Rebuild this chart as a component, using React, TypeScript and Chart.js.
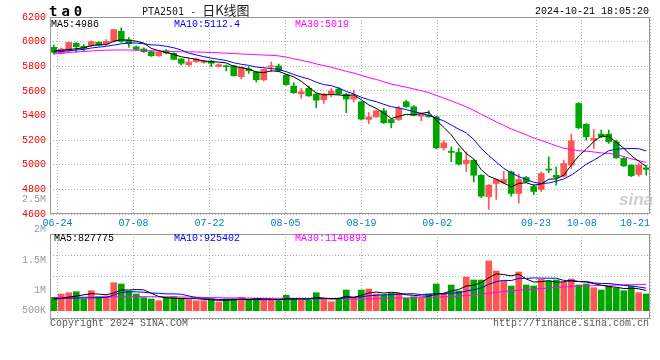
import React, { useEffect, useRef } from 'react';
import { Chart, registerables } from 'chart.js';

Chart.register(...registerables);

// ---------- categories ----------
const dates = [
  '06-21', '06-24', '06-25', '06-26', '06-27', '06-28',
  '07-01', '07-02', '07-03', '07-04', '07-05', '07-08', '07-09', '07-10', '07-11', '07-12',
  '07-15', '07-16', '07-17', '07-18', '07-19', '07-22', '07-23', '07-24', '07-25', '07-26',
  '07-29', '07-30', '07-31', '08-01', '08-02', '08-05', '08-06', '08-07', '08-08', '08-09',
  '08-12', '08-13', '08-14', '08-15', '08-16', '08-19', '08-20', '08-21', '08-22', '08-23',
  '08-26', '08-27', '08-28', '08-29', '08-30', '09-02', '09-03', '09-04', '09-05', '09-06',
  '09-09', '09-10', '09-11', '09-12', '09-13', '09-18', '09-19', '09-20', '09-23', '09-24',
  '09-25', '09-26', '09-27', '09-30', '10-08', '10-09', '10-10', '10-11', '10-14', '10-15',
  '10-16', '10-17', '10-18', '10-21',
];

// ---------- price series ----------
const openP = [
  5954, 5907, 5928, 5986, 5962, 5967, 5994, 5980, 6002, 6084,
  6015, 5958, 5940, 5918, 5885, 5926, 5905, 5859, 5812, 5837,
  5832, 5842, 5799, 5804, 5804, 5715, 5777, 5755, 5690, 5795,
  5802, 5728, 5639, 5576, 5620, 5574, 5528, 5576, 5615, 5574,
  5533, 5511, 5368, 5389, 5438, 5368, 5368, 5511, 5471, 5395,
  5403, 5389, 5137, 5110, 5100, 5010, 5037, 4915, 4740, 4848,
  4853, 4942, 4767, 4897, 4824, 4799, 4965, 4915, 4907, 4997,
  5498, 5328, 5200, 5249, 5249, 5187, 5051, 4997, 4921, 4975,
];
const highP = [
  5972, 5950, 5995, 5993, 5976, 6005, 6000, 6017, 6100, 6111,
  6033, 5965, 5950, 5925, 5920, 5935, 5910, 5862, 5864, 5866,
  5850, 5848, 5820, 5810, 5808, 5795, 5794, 5760, 5778, 5834,
  5818, 5735, 5666, 5620, 5639, 5580, 5580, 5620, 5628, 5580,
  5607, 5515, 5425, 5445, 5458, 5375, 5476, 5525, 5480, 5420,
  5438, 5395, 5200, 5145, 5133, 5105, 5040, 4920, 4840, 4885,
  4946, 4950, 4921, 4905, 4837, 4942, 5064, 4983, 5037, 5249,
  5505, 5335, 5287, 5282, 5282, 5200, 5060, 5000, 5010, 4994,
];
const lowP = [
  5899, 5900, 5920, 5913, 5920, 5960, 5965, 5972, 5995, 5993,
  5954, 5930, 5912, 5880, 5880, 5900, 5852, 5810, 5799, 5830,
  5825, 5796, 5795, 5763, 5720, 5698, 5742, 5672, 5680, 5755,
  5755, 5645, 5580, 5539, 5555, 5463, 5498, 5552, 5570, 5422,
  5511, 5363, 5333, 5385, 5335, 5300, 5360, 5465, 5398, 5357,
  5385, 5130, 5119, 5024, 4997, 4945, 4861, 4734, 4637, 4718,
  4845, 4745, 4690, 4855, 4758, 4782, 4934, 4834, 4900, 4970,
  5292, 5200, 5133, 5220, 5173, 5050, 4985, 4905, 4907, 4915,
];
const closeP = [
  5913, 5940, 5993, 5959, 5946, 5999, 5972, 6002, 6098, 6002,
  5983, 5937, 5918, 5885, 5913, 5907, 5856, 5824, 5834, 5859,
  5842, 5824, 5812, 5796, 5723, 5791, 5763, 5690, 5775, 5798,
  5763, 5650, 5585, 5593, 5560, 5525, 5574, 5598, 5576, 5533,
  5560, 5371, 5389, 5438, 5341, 5341, 5458, 5471, 5403, 5411,
  5390, 5137, 5178, 5100, 5005, 5037, 4915, 4745, 4834, 4880,
  4880, 4767, 4880, 4861, 4783, 4929, 4957, 4897, 5010, 5194,
  5300, 5227, 5214, 5227, 5187, 5056, 4991, 4910, 4997, 4962,
];
const ma5P = [
  5924, 5930, 5936, 5942, 5950, 5967, 5974, 5976, 6003, 6015,
  6011, 6004, 5988, 5945, 5927, 5912, 5896, 5877, 5867, 5856,
  5843, 5837, 5834, 5827, 5799, 5789, 5777, 5753, 5748, 5763,
  5758, 5735, 5714, 5678, 5630, 5583, 5567, 5570, 5567, 5561,
  5568, 5528, 5486, 5458, 5420, 5376, 5393, 5410, 5403, 5417,
  5427, 5362, 5304, 5243, 5162, 5091, 5047, 4960, 4907, 4882,
  4851, 4821, 4848, 4854, 4834, 4844, 4882, 4885, 4915, 4997,
  5072, 5126, 5189, 5232, 5231, 5182, 5135, 5074, 5028, 4986,
];
const ma10P = [
  5915, 5920, 5925, 5932, 5937, 5948, 5955, 5962, 5972, 5982,
  5989, 5989, 5982, 5974, 5971, 5962, 5950, 5932, 5906, 5892,
  5878, 5866, 5856, 5847, 5828, 5816, 5807, 5793, 5788, 5781,
  5774, 5756, 5733, 5713, 5697, 5670, 5651, 5642, 5622, 5596,
  5575, 5548, 5528, 5512, 5491, 5472, 5461, 5448, 5431, 5418,
  5401, 5378, 5357, 5323, 5289, 5259, 5205, 5132, 5075, 5022,
  4971, 4934, 4904, 4880, 4858, 4847, 4852, 4867, 4884, 4916,
  4958, 5004, 5037, 5074, 5114, 5127, 5130, 5132, 5130, 5112,
];
const ma30P = [
  5900, 5905, 5912, 5916, 5920, 5924, 5928, 5931, 5932, 5932,
  5932, 5930, 5928, 5926, 5924, 5920, 5919, 5918, 5917, 5916,
  5914, 5912, 5909, 5906, 5903, 5900, 5897, 5894, 5891, 5889,
  5884, 5874, 5860, 5848, 5835, 5819, 5806, 5792, 5775, 5759,
  5745, 5726, 5708, 5693, 5674, 5655, 5642, 5630, 5616, 5601,
  5586, 5563, 5542, 5519, 5495, 5470, 5442, 5410, 5380, 5348,
  5320, 5290, 5267, 5243, 5217, 5197, 5176, 5154, 5134, 5124,
  5114, 5110, 5104, 5096, 5092, 5082, 5066, 5048, 5034, 5019,
];

// ---------- volume series ----------
const volume = [
  549000, 685000, 738000, 779000, 492000, 820000, 574000, 603000, 1148000, 1095000,
  808000, 685000, 533000, 480000, 410000, 549000, 574000, 480000, 451000, 410000,
  410000, 492000, 357000, 480000, 480000, 549000, 439000, 492000, 439000, 439000,
  410000, 631000, 492000, 439000, 426000, 738000, 480000, 369000, 508000, 849000,
  549000, 849000, 890000, 685000, 644000, 713000, 713000, 508000, 574000, 508000,
  685000, 1095000, 713000, 1054000, 808000, 1382000, 1259000, 1259000, 2038000, 1628000,
  1218000, 1013000, 1587000, 1054000, 1013000, 1287000, 1218000, 1259000, 1164000, 1300000,
  1054000, 1095000, 943000, 849000, 1000000, 931000, 820000, 1000000, 738000, 685000,
];
const ma5V = [
  480000, 500000, 560000, 600000, 649000, 703000, 681000, 654000, 727000, 848000,
  846000, 868000, 854000, 720000, 583000, 531000, 509000, 499000, 493000, 493000,
  465000, 449000, 424000, 430000, 444000, 472000, 461000, 488000, 480000, 472000,
  444000, 482000, 482000, 482000, 480000, 545000, 515000, 490000, 504000, 589000,
  551000, 625000, 729000, 764000, 723000, 756000, 729000, 653000, 630000, 603000,
  598000, 674000, 715000, 811000, 871000, 1010000, 1043000, 1152000, 1349000, 1513000,
  1480000, 1431000, 1497000, 1300000, 1177000, 1191000, 1232000, 1166000, 1188000, 1246000,
  1199000, 1174000, 1111000, 1048000, 988000, 964000, 909000, 920000, 898000, 828000,
];
const ma10V = [
  505000, 510000, 515000, 520000, 525000, 530000, 535000, 545000, 640000, 748000,
  774000, 774000, 754000, 724000, 716000, 689000, 689000, 676000, 607000, 538000,
  498000, 479000, 461000, 461000, 468000, 468000, 455000, 456000, 455000, 458000,
  458000, 472000, 485000, 481000, 476000, 495000, 499000, 486000, 493000, 534000,
  548000, 570000, 610000, 634000, 656000, 654000, 677000, 691000, 697000, 663000,
  677000, 702000, 684000, 721000, 737000, 804000, 859000, 934000, 1080000, 1192000,
  1245000, 1237000, 1325000, 1325000, 1345000, 1336000, 1332000, 1332000, 1244000, 1211000,
  1195000, 1203000, 1139000, 1118000, 1117000, 1081000, 1042000, 1016000, 973000, 925000,
];
const ma30V = [
  545000, 548000, 550000, 552000, 555000, 558000, 560000, 565000, 570000, 575000,
  578000, 578000, 576000, 574000, 572000, 570000, 566000, 562000, 558000, 552000,
  545000, 538000, 530000, 524000, 520000, 516000, 512000, 510000, 508000, 506000,
  505000, 504000, 503000, 502000, 500000, 498000, 496000, 494000, 490000, 486000,
  482000, 480000, 484000, 492000, 500000, 510000, 518000, 524000, 530000, 536000,
  545000, 556000, 568000, 582000, 598000, 620000, 645000, 675000, 715000, 755000,
  785000, 810000, 840000, 865000, 885000, 905000, 930000, 955000, 975000, 995000,
  1010000, 1020000, 1028000, 1035000, 1042000, 1050000, 1058000, 1066000, 1074000, 1080000,
];

// ---------- tick labels ----------
const priceTicks = [4600, 4800, 5000, 5200, 5400, 5600, 5800, 6000, 6200];
const dateTickLabels = ['06-24', '07-08', '07-22', '08-05', '08-19', '09-02', '09-23', '10-08', '10-21'];
const volTickLabels = ['2.5M', '2M', '1.5M', '1M', '500K'];
const volTickY = [200, 230, 261, 291, 311]; // layout positions of the volume axis labels

// ---------- styles ----------
const UP = '#ff5555';
const DOWN = '#00a600';
const GRID = '#b0b0b0';
const FRAME = '#999999';
const MONO = "'Liberation Mono', 'DejaVu Sans Mono', monospace";
const DATE_BLUE = '#0a78d2';

const candleColor = closeP.map((c, i) => (c >= openP[i] ? UP : DOWN));
const pts = (arr: number[]) => arr.map((v, i) => ({ x: i, y: v }));
const gridTickIdx = [0, ...dateTickLabels.map((d) => dates.indexOf(d))];

const framePlugin = {
  id: 'frame',
  afterDraw(chart: any) {
    const { ctx, chartArea: a } = chart;
    ctx.save();
    ctx.strokeStyle = FRAME;
    ctx.lineWidth = 1;
    ctx.setLineDash([]);
    ctx.strokeRect(a.left + 0.5, a.top + 0.5, a.right - a.left - 1, a.bottom - a.top - 1);
    ctx.restore();
  },
};

function dataAxis() {
  return {
    type: 'linear',
    display: false,
    offset: false,
    grid: { offset: false },
    min: -0.5,
    max: dates.length - 0.5,
  };
}

function gridAxis(showLabels: boolean) {
  return {
    type: 'linear',
    position: 'bottom',
    offset: false,
    min: 0,
    max: dates.length - 1,
    afterBuildTicks: (s: any) => {
      s.ticks = gridTickIdx.map((v) => ({ value: v }));
    },
    afterFit: (s: any) => {
      s.height = showLabels ? 18 : 0;
      s.paddingLeft = 0;
      s.paddingRight = 0;
    },
    grid: { color: GRID, lineWidth: 1, drawTicks: false, offset: false },
    border: { display: false, dash: [1, 2] },
    ticks: {
      display: showLabels,
      autoSkip: false,
      maxRotation: 0,
      minRotation: 0,
      align: 'inner',
      padding: 3,
      color: DATE_BLUE,
      font: { family: MONO, size: 10 },
      callback: (v: number) => (v === 0 ? '' : dates[v]),
    },
  };
}

function lineSet(arr: number[], color: string, order: number) {
  return {
    type: 'line',
    data: pts(arr),
    borderColor: color,
    borderWidth: 1,
    pointRadius: 0,
    tension: 0,
    fill: false,
    order,
    xAxisID: 'x',
    yAxisID: 'y',
  };
}

function Txt(props: any) {
  const { x, y, text, color = '#000', size = 10, family = MONO, align = 'left', weight = 'normal', style = {} } = props;
  const pos = align === 'right' ? { right: 660 - x } : { left: x };
  return (
    <div
      style={{
        position: 'absolute',
        top: y - size / 2,
        ...pos,
        fontSize: size,
        lineHeight: `${size}px`,
        fontFamily: family,
        color,
        fontWeight: weight,
        whiteSpace: 'pre',
        ...style,
      }}
    >
      {text}
    </div>
  );
}

export default function App() {
  const priceRef = useRef<HTMLCanvasElement>(null);
  const volRef = useRef<HTMLCanvasElement>(null);

  useEffect(() => {
    const common = {
      animation: false,
      responsive: false,
      maintainAspectRatio: false,
      devicePixelRatio: 1,
      events: [],
      plugins: { legend: { display: false }, tooltip: { enabled: false }, title: { display: false } },
    };

    const priceChart = new Chart(priceRef.current as HTMLCanvasElement, {
      type: 'bar',
      data: {
        datasets: [
          lineSet(ma5P, '#000000', 0),
          lineSet(ma10P, '#0000ff', 1),
          lineSet(ma30P, '#ff00ff', 2),
          {
            type: 'bar',
            data: dates.map((_, i) => ({ x: i, y: [openP[i], closeP[i]] })),
            backgroundColor: candleColor,
            borderWidth: 0,
            barThickness: 6,
            minBarLength: 1,
            grouped: false,
            order: 4,
            xAxisID: 'x',
            yAxisID: 'y',
          },
          {
            type: 'bar',
            data: dates.map((_, i) => ({ x: i, y: [lowP[i], highP[i]] })),
            backgroundColor: candleColor,
            borderWidth: 0,
            barThickness: 1,
            grouped: false,
            order: 5,
            xAxisID: 'x',
            yAxisID: 'y',
          },
        ] as any,
      },
      options: {
        ...common,
        layout: { padding: { top: 17, right: 10, bottom: 0, left: 0 } },
        scales: {
          x: dataAxis(),
          xg: gridAxis(true),
          y: {
            type: 'linear',
            position: 'left',
            min: priceTicks[0],
            max: priceTicks[priceTicks.length - 1],
            afterBuildTicks: (s: any) => {
              s.ticks = priceTicks.map((v) => ({ value: v }));
            },
            afterFit: (s: any) => {
              s.width = 50;
            },
            grid: { color: GRID, lineWidth: 1, drawTicks: false },
            border: { display: false, dash: [1, 2] },
            ticks: {
              color: '#f00000',
              padding: 4,
              font: { family: MONO, size: 10 },
              callback: (v: number) => String(v),
            },
          },
        },
      } as any,
      plugins: [framePlugin],
    });

    const volChart = new Chart(volRef.current as HTMLCanvasElement, {
      type: 'bar',
      data: {
        datasets: [
          lineSet(ma5V, '#000000', 0),
          lineSet(ma10V, '#0000ff', 1),
          lineSet(ma30V, '#ff00ff', 2),
          {
            type: 'bar',
            data: pts(volume),
            backgroundColor: candleColor,
            borderWidth: 0,
            barThickness: 6,
            grouped: false,
            order: 4,
            xAxisID: 'x',
            yAxisID: 'y',
          },
        ] as any,
      },
      options: {
        ...common,
        layout: { padding: { top: 8, right: 10, bottom: 7, left: 0 } },
        scales: {
          x: dataAxis(),
          xg: gridAxis(false),
          y: {
            type: 'linear',
            position: 'left',
            min: -340000,
            max: 3145000,
            afterBuildTicks: (s: any) => {
              s.ticks = [0, 1, 2, 3, 4].map((k) => ({ value: s.min + ((s.max - s.min) * k) / 4 }));
            },
            afterFit: (s: any) => {
              s.width = 50;
            },
            grid: { color: GRID, lineWidth: 1, drawTicks: false },
            border: { display: false, dash: [1, 2] },
            ticks: { display: false },
          },
        },
      } as any,
      plugins: [framePlugin],
    });

    return () => {
      priceChart.destroy();
      volChart.destroy();
    };
  }, []);

  return (
    <div
      style={{
        position: 'fixed',
        left: 0,
        top: 0,
        width: 660,
        height: 360,
        background: '#ffffff',
        overflow: 'hidden',
      }}
    >
      <canvas
        ref={priceRef}
        width={660}
        height={232}
        style={{ position: 'absolute', left: 0, top: 0, width: 660, height: 232 }}
      />
      <canvas
        ref={volRef}
        width={660}
        height={100}
        style={{ position: 'absolute', left: 0, top: 226, width: 660, height: 100 }}
      />

      {/* header */}
      <Txt x={49} y={11} text="ta0" size={14} weight="bold" family="'DejaVu Sans Mono', monospace" style={{ letterSpacing: 4 }} />
      <div style={{ position: 'absolute', left: 142, top: 3, height: 14, lineHeight: '14px', whiteSpace: 'pre', color: '#222' }}>
        <span style={{ fontFamily: "'DejaVu Sans Mono', monospace", fontSize: 10 }}>PTA2501 - </span>
        <span style={{ fontFamily: "'Noto Sans CJK SC', sans-serif", fontSize: 13 }}>日K线图</span>
      </div>
      <Txt x={649} y={12} text="2024-10-21 18:05:20" align="right" />

      {/* price MA legend */}
      <Txt x={51} y={24.5} text="MA5:4986" color="#000000" />
      <Txt x={174} y={24.5} text="MA10:5112.4" color="#0000ff" />
      <Txt x={295} y={24.5} text="MA30:5019" color="#ff00ff" />

      {/* volume MA legend */}
      <Txt x={54} y={238.5} text="MA5:827775" color="#000000" />
      <Txt x={174} y={238.5} text="MA10:925402" color="#0000ff" />
      <Txt x={295} y={238.5} text="MA30:1146893" color="#ff00ff" />

      {/* volume axis labels */}
      {volTickLabels.map((t, i) => (
        <Txt key={t} x={46} y={volTickY[i]} text={t} align="right" color="#999999" />
      ))}

      {/* watermark */}
      <Txt
        x={619}
        y={199}
        text="sina"
        size={17}
        weight="bold"
        family="'Liberation Sans', Arial, sans-serif"
        color="rgba(190,190,190,0.75)"
        style={{ fontStyle: 'italic' }}
      />

      {/* footer */}
      <Txt x={50} y={324} text="Copyright 2024 SINA.COM" color="#555555" />
      <Txt x={649} y={324} text="http://finance.sina.com.cn" align="right" color="#555555" />
    </div>
  );
}
